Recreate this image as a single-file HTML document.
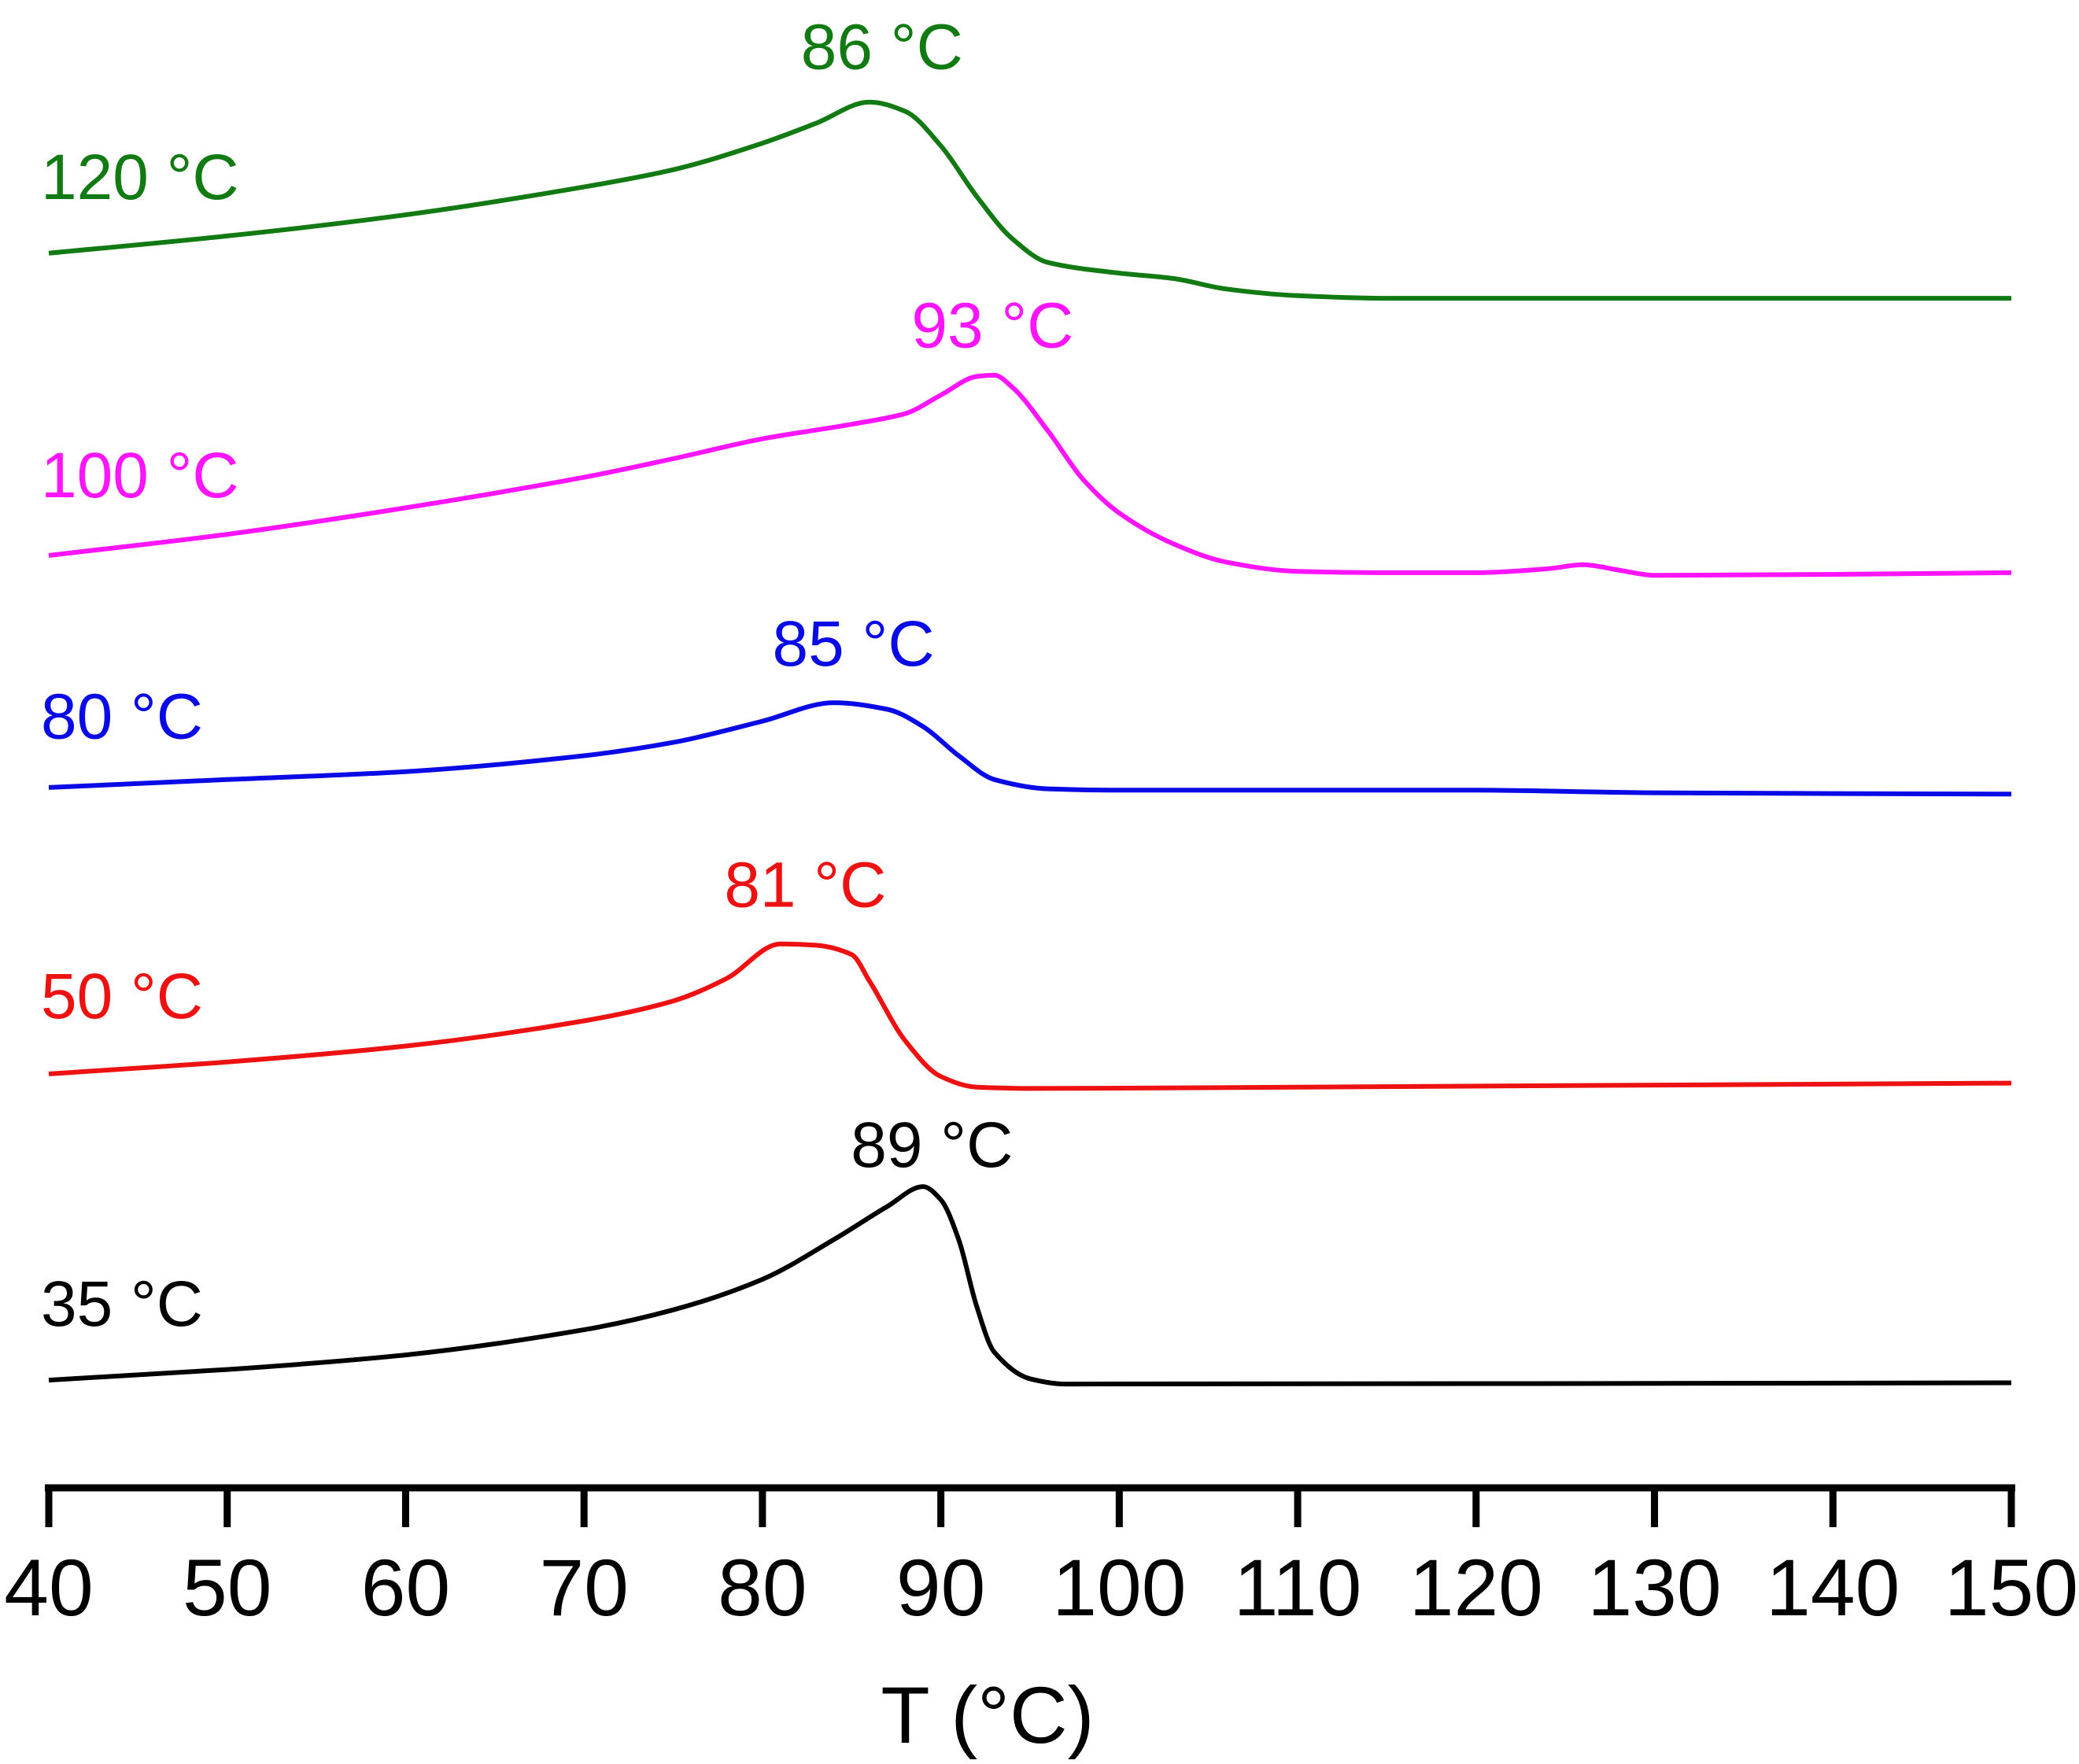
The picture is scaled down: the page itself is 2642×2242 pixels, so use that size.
<!DOCTYPE html>
<html><head><meta charset="utf-8"><style>
html,body{margin:0;padding:0;background:#fff}
svg{display:block}
text{font-family:"Liberation Sans",Arial,sans-serif}
</style></head><body>
<svg id="chart" width="2642" height="2242" viewBox="0 0 2642 2242" xmlns="http://www.w3.org/2000/svg">
<g id="axis"></g>
<g id="series"></g>
<g id="labels"></g>
</svg>
<script>
const xTicks = [40,50,60,70,80,90,100,110,120,130,140,150];
const seriesNames = ["120 °C","100 °C","80 °C","50 °C","35 °C"];
const seriesColors = ["#127a12","#ff14ff","#0a0ae6","#ee1111","#000000"];
const peakLabels = ["86 °C","93 °C","85 °C","81 °C","89 °C"];
// signal values (arbitrary units, larger = lower on page)
const xs120 = [40,50,60,70,75,80,83,86,88,90,92,94,96,100,103,106,110,115,150];
const ys120 = [191,178,162,141,128,108,93,77,84,110,148,180,198,206,210,218,223,225,225];
const xs100 = [40,50,60,70,75,80,85,88,90,92,93,94,96,98,100,103,106,110,115,120,124,126,128,130,150];
const ys100 = [419,403,383,360,346,331,320,312,298,284,283,292,325,362,387,410,424,431,432,432,429,426,430,434,432];
const xs80 = [40,50,60,70,75,80,84,87,89,91,93,96,100,120,130,150];
const ys80 = [594,588,582,570,560,544,530,535,548,570,588,595,596,596,598,599];
const xs50 = [40,50,60,70,75,78,81,83,85,86,88,90,92,95,110,150];
const ys50 = [810,801,789,770,755,738,712,713,720,740,785,812,820,821,820,817];
const xs35 = [40,50,60,70,75,80,84,87,89,90,91,92,93,95,97,150];
const ys35 = [1041,1033,1022,1003,988,965,935,910,895,905,935,985,1020,1040,1044,1043];
const nameLabelX = [40,40,40,40,40];
const nameLabelY = [150,375,557,768,1000];
const peakLabelX = [86.7,92.9,85.1,82.4,89.5];
const peakLabelY = [52,262,502,684,880];

const S = 1.685;
function xScale(t){ return 62 + (t-40)*(2556-62)/110; }
function yScale(v){ return v*S; }
const NS="http://www.w3.org/2000/svg";
function mk(tag,attrs,parent){const e=document.createElementNS(NS,tag);for(const k in attrs)e.setAttribute(k,attrs[k]);parent.appendChild(e);return e;}

const axis=document.getElementById('axis');
const axisY=1891;
const axLine=mk('line',{x1:xScale(40)-5,x2:xScale(150)+5,y1:axisY,y2:axisY,stroke:'#000','stroke-width':9},axis);


xTicks.forEach(t=>{
  const tk=mk('line',{x1:xScale(t),x2:xScale(t),y1:axisY,y2:1941,stroke:'#000','stroke-width':9},axis);
  
  
  const lb=mk('text',{x:xScale(t),y:2053,'text-anchor':'middle','font-size':102,fill:'#000'},axis);
  lb.textContent=t;
  
  
});
const title=mk('text',{x:1255,y:2215,'text-anchor':'middle','font-size':102,fill:'#000'},axis);
title.textContent='T (°C)';



function pathFor(xs,ys){
  const p=xs.map((x,i)=>[xScale(x),yScale(ys[i])]);
  const n=p.length;
  const m=p.map((pt,i)=>{
    if(i===0) return (p[1][1]-p[0][1])/(p[1][0]-p[0][0]);
    if(i===n-1) return (p[n-1][1]-p[n-2][1])/(p[n-1][0]-p[n-2][0]);
    const s0=(p[i][1]-p[i-1][1])/(p[i][0]-p[i-1][0]);
    const s1=(p[i+1][1]-p[i][1])/(p[i+1][0]-p[i][0]);
    if(s0*s1<=0) return 0;
    return 2/(1/s0+1/s1);
  });
  let d='M'+p[0][0].toFixed(1)+','+p[0][1].toFixed(1);
  for(let i=0;i<n-1;i++){
    const dx=(p[i+1][0]-p[i][0])/3;
    d+=' C'+(p[i][0]+dx).toFixed(1)+','+(p[i][1]+m[i]*dx).toFixed(1)+' '+(p[i+1][0]-dx).toFixed(1)+','+(p[i+1][1]-m[i+1]*dx).toFixed(1)+' '+p[i+1][0].toFixed(1)+','+p[i+1][1].toFixed(1);
  }
  return d;
}
const allX=[xs120,xs100,xs80,xs50,xs35], allY=[ys120,ys100,ys80,ys50,ys35];
const ser=document.getElementById('series'), lab=document.getElementById('labels');
const slugs=['120c','100c','80c','50c','35c'];
allX.forEach((xs,i)=>{
  const pth=mk('path',{d:pathFor(xs,allY[i]),fill:'none',stroke:seriesColors[i],'stroke-width':6,'stroke-linejoin':'round'},ser);
  
  
  const nl=mk('text',{x:xScale(nameLabelX[i])-10,y:yScale(nameLabelY[i]),'font-size':82,fill:seriesColors[i]},lab);
  nl.textContent=seriesNames[i];
  
  
  const pl=mk('text',{x:xScale(peakLabelX[i]),y:yScale(peakLabelY[i]),'text-anchor':'middle','font-size':82,fill:seriesColors[i]},lab);
  pl.textContent=peakLabels[i];
  
  
});
</script>
</body></html>
